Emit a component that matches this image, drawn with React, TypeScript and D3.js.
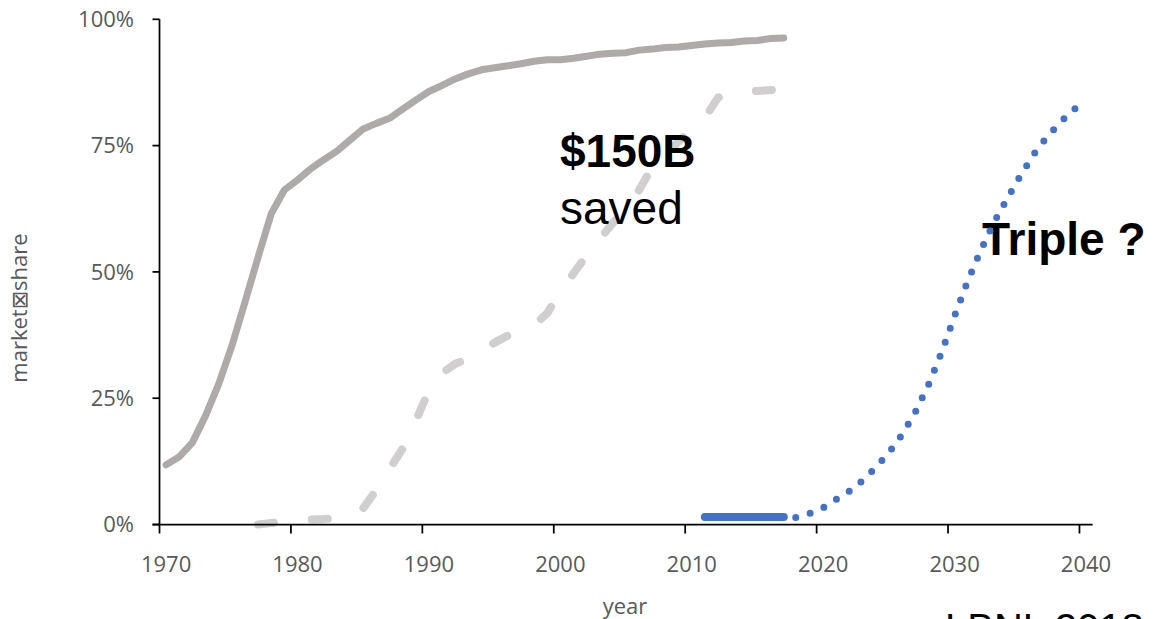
import React from "react";
import * as d3 from "d3";

// Category axis: one band per year, 1970 through 2040
const axisYears: number[] = d3.range(1970, 2041);
const tickYears: number[] = [1970, 1980, 1990, 2000, 2010, 2020, 2030, 2040];
const yTicks: number[] = [0, 25, 50, 75, 100];

// Historic market share (solid grey), 1970–2017
const historicStart = 1970;
const historicShare: number[] = [
  11.8, 13.4, 16.2, 21.5, 27.8, 35.3, 44.0, 52.9, 61.5, 66.2,
  68.2, 70.4, 72.2, 73.9, 76.1, 78.3, 79.4, 80.4, 82.2, 84.0,
  85.7, 86.9, 88.2, 89.2, 90.0, 90.4, 90.8, 91.2, 91.7, 92.0,
  92.0, 92.3, 92.7, 93.1, 93.3, 93.4, 93.9, 94.1, 94.4, 94.5,
  94.8, 95.1, 95.3, 95.4, 95.7, 95.8, 96.2, 96.3,
];

// Second adoption curve (dashed light grey), 1977–2017
const secondStart = 1977;
const secondShare: number[] = [
  0, 0.3, 0.6, 0.9, 1.0, 1.1, 1.3, 1.8, 3.2, 6.8,
  11.0, 15.0, 20.5, 26.5, 30.0, 31.8, 32.8, 34.4, 36.0, 37.4,
  38.5, 39.5, 41.8, 46.1, 49.7, 53.3, 56.5, 59.7, 62.9, 66.2,
  70.8, 73.3, 75.8, 78.2, 80.5, 84.5, 85.5, 85.7, 85.8, 86.0,
  86.0,
];

// Current share (solid blue), 2011–2017
const currentStart = 2011;
const currentShare: number[] = [1.5, 1.5, 1.5, 1.5, 1.5, 1.5, 1.5];

// Projection (dotted blue), 2017–2040
const projectionStart = 2017;
const projectionShare: number[] = [
  1.5, 1.4, 2.2, 3.3, 5.0, 6.6, 8.7, 11.3, 14.2, 17.8,
  22.2, 27.6, 34.0, 41.3, 48.2, 54.3, 59.8, 64.5, 69.0, 73.2,
  76.6, 79.5, 82.0, 84.0,
];

const W = 1161;
const H = 619;

const x = d3
  .scaleBand<number>()
  .domain(axisYears)
  .range([159.5, 1092.6])
  .padding(0);
const cx = (yr: number) => (x(yr) as number) + x.bandwidth() / 2;
const y = d3.scaleLinear().domain([0, 100]).range([524.5, 19.3]);

const toPoints = (start: number, vals: number[]): [number, number][] =>
  vals.map((v, i) => [start + i, v]);

const line = d3
  .line<[number, number]>()
  .x((d) => cx(d[0]))
  .y((d) => y(d[1]));

const tickFont = "'Open Sans', 'DejaVu Sans', sans-serif";
const noteFont = "'Liberation Sans', Arial, sans-serif";
const grey = "#595959";

export default function App() {
  const axisX = x(1970) as number;
  const axisEnd = 1092.6;
  const y0 = y(0);

  return (
    <svg
      width={W}
      height={H}
      style={{ position: "absolute", left: 0, top: 0, display: "block", background: "#fff" }}
    >
      {/* historic curve */}
      <path
        d={line(toPoints(historicStart, historicShare)) || ""}
        fill="none"
        stroke="#AEAAAA"
        strokeWidth={7}
        strokeLinecap="round"
        strokeLinejoin="round"
      />
      {/* second curve, long dashes */}
      <path
        d={line(toPoints(secondStart, secondShare)) || ""}
        fill="none"
        stroke="#D0CECE"
        strokeWidth={8}
        strokeLinecap="round"
        strokeLinejoin="round"
        strokeDasharray="16 38"
      />

      {/* annotations */}
      <text x={560} y={167} fontFamily={noteFont} fontSize={46} fontWeight="bold" fill="#000">
        $150B
      </text>
      <text x={560} y={224} fontFamily={noteFont} fontSize={46} fill="#000">
        saved
      </text>
      <text x={982} y={255} fontFamily={noteFont} fontSize={46} fontWeight="bold" fill="#000">
        Triple ?
      </text>
      <text x={945} y={642} fontFamily={noteFont} fontSize={40} fill="#000">
        LBNL 2018
      </text>

      {/* current share and projection */}
      <path
        d={line(toPoints(currentStart, currentShare)) || ""}
        fill="none"
        stroke="#4472C4"
        strokeWidth={8}
        strokeLinecap="round"
      />
      <path
        d={line(toPoints(projectionStart, projectionShare)) || ""}
        fill="none"
        stroke="#4472C4"
        strokeWidth={7}
        strokeLinecap="round"
        strokeDasharray="0 15"
        strokeDashoffset={3}
      />

      {/* y axis */}
      <line x1={axisX} x2={axisX} y1={y(100)} y2={y0} stroke="#000" strokeWidth={1.75} />
      {yTicks.map((t) => (
        <g key={t}>
          <line x1={axisX - 7} x2={axisX} y1={y(t)} y2={y(t)} stroke="#000" strokeWidth={1.75} />
          <text
            x={134}
            y={y(t)}
            dy="0.35em"
            textAnchor="end"
            fontFamily={tickFont}
            fontSize={22}
            fill={grey}
          >
            {`${t}%`}
          </text>
        </g>
      ))}

      {/* x axis */}
      <line x1={axisX - 7} x2={axisEnd} y1={y0} y2={y0} stroke="#000" strokeWidth={1.75} />
      {tickYears.map((yr) => (
        <g key={yr}>
          <line
            x1={x(yr) as number}
            x2={x(yr) as number}
            y1={y0}
            y2={y0 + 9}
            stroke="#000"
            strokeWidth={1.75}
          />
          <text
            x={cx(yr)}
            y={572}
            textAnchor="middle"
            fontFamily={tickFont}
            fontSize={22}
            fill={grey}
          >
            {yr}
          </text>
        </g>
      ))}

      {/* axis titles */}
      <text x={625} y={614} textAnchor="middle" fontFamily={tickFont} fontSize={22} fill={grey}>
        year
      </text>
      <text
        transform="translate(27,308) rotate(-90)"
        textAnchor="middle"
        fontFamily={tickFont}
        fontSize={22}
        fill={grey}
      >
        market⊠share
      </text>
    </svg>
  );
}
